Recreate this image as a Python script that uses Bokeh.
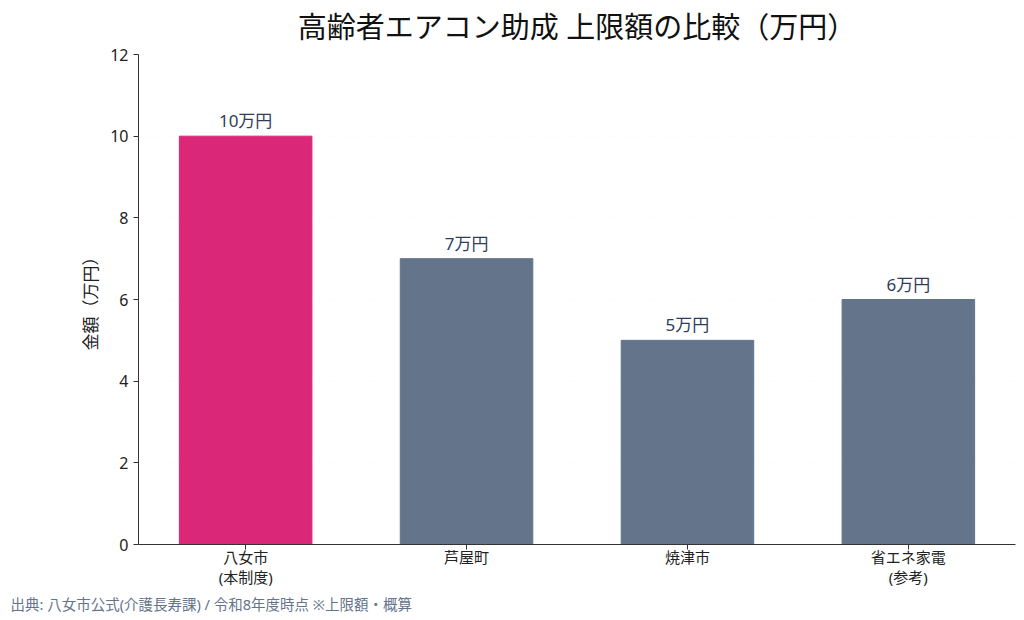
from bokeh.plotting import figure
from bokeh.models import Range1d, FixedTicker, ColumnDataSource, Title
from bokeh.core.properties import value
from bokeh.embed import file_html
from bokeh.resources import INLINE

FONT = "'Noto Sans', 'Noto Sans CJK JP'"

categories = ["八女市\n(本制度)", "芦屋町", "焼津市", "省エネ家電\n(参考)"]
amounts = [10, 7, 5, 6]
bar_labels = ["10万円", "7万円", "5万円", "6万円"]
bar_colors = ["#db2777", "#64748b", "#64748b", "#64748b"]
y_ticks = [0, 2, 4, 6, 8, 10, 12]

positions = list(range(len(categories)))
source = ColumnDataSource(dict(x=positions, top=amounts, label=bar_labels, color=bar_colors))

p = figure(
    width=1020,
    height=616,
    output_backend="svg",
    toolbar_location=None,
    x_range=Range1d(-0.485, 3.485),
    y_range=Range1d(0, 12),
    min_border_left=138,
    min_border_right=5,
    min_border_top=0,
    min_border_bottom=5,
)
p.outline_line_color = None
p.background_fill_color = "white"

p.vbar(x="x", top="top", width=0.6, color="color", source=source)
p.text(x="x", y="top", text="label", source=source,
       text_align="center", text_baseline="bottom", y_offset=-4,
       text_font=value(FONT), text_font_size="17px", text_color="#2f3d5a")

p.title.text = "高齢者エアコン助成 上限額の比較（万円）"
p.title.align = "center"
p.title.vertical_align = "top"
p.title.text_font = FONT
p.title.text_font_size = "29px"
p.title.text_font_style = "normal"
p.title.text_color = "#111111"
p.title.standoff = 13

p.xaxis.ticker = FixedTicker(ticks=positions)
p.xaxis.major_label_overrides = {i: c for i, c in zip(positions, categories)}
p.yaxis.ticker = FixedTicker(ticks=y_ticks)
p.yaxis.axis_label = "金額（万円）"

for ax in (p.xaxis, p.yaxis):
    ax.major_label_text_font = FONT
    ax.major_label_text_color = "#222222"
    ax.axis_line_color = "#333333"
    ax.major_tick_line_color = "#333333"
    ax.major_tick_in = 0
    ax.major_tick_out = 5
    ax.minor_tick_line_color = None
    ax.axis_label_text_font = FONT
    ax.axis_label_text_font_size = "17px"
    ax.axis_label_text_font_style = "normal"
    ax.axis_label_text_color = "#222222"

p.yaxis.major_label_text_font_size = "16px"
p.xaxis.major_label_text_font_size = "15px"
p.xaxis.major_label_text_line_height = 1.0
p.xaxis.major_label_standoff = -3

p.xgrid.grid_line_color = None
p.ygrid.grid_line_color = "#cbd5e1"
p.ygrid.grid_line_alpha = 0.12
p.ygrid.grid_line_dash = "2 3"

note = Title(text="出典: 八女市公式(介護長寿課) / 令和8年度時点 ※上限額・概算",
             align="left", offset=-128, standoff=5,
             text_font=FONT, text_font_size="14.5px",
             text_font_style="normal", text_color="#64748b")
p.add_layout(note, "below")

open("out.html", "w").write(file_html(p, INLINE))
